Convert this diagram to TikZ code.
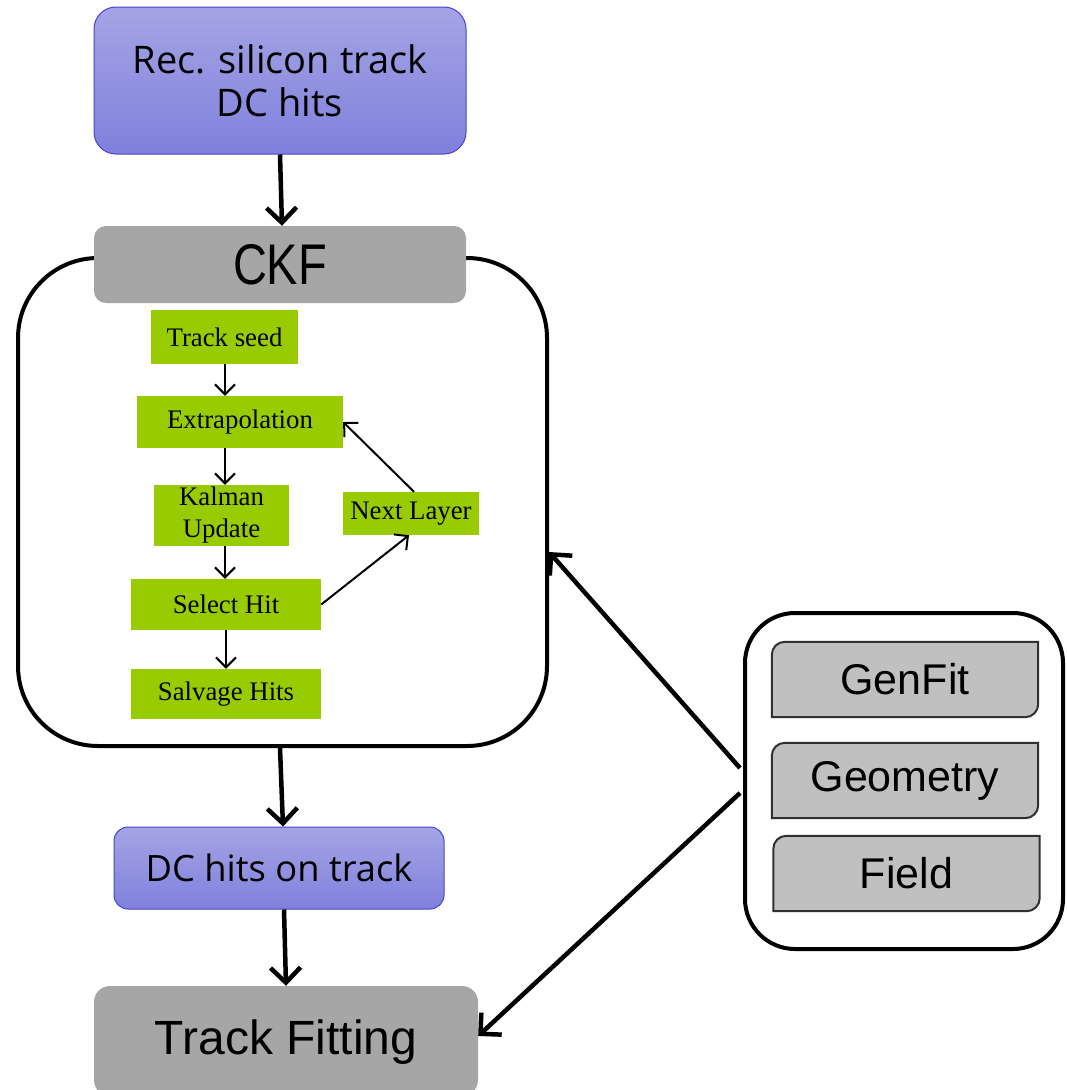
\documentclass[tikz,border=0pt]{standalone}
\usepackage{fontspec}
\usepackage{graphicx}
\usetikzlibrary{arrows.meta,calc}
\newfontfamily\segoefont{Open Sans}
\newfontfamily\arialfont{Liberation Sans}
\newfontfamily\tnrfont{Liberation Serif}
\definecolor{bluetop}{HTML}{A4A4E5}
\definecolor{bluebot}{HTML}{8080DC}
\definecolor{blueedge}{HTML}{4646CC}
\definecolor{graybox}{HTML}{A6A6A6}
\definecolor{lightgray}{HTML}{C0C0C0}
\definecolor{grayedge}{HTML}{303030}
\definecolor{greenbox}{HTML}{99CC00}
\tikzset{
  bluebox/.style={draw=blueedge, line width=1pt, rounded corners=22pt, top color=bluetop, bottom color=bluebot, align=center, inner sep=0pt},
  graynode/.style={fill=graybox, rounded corners=12pt, inner sep=0pt},
  greennode/.style={fill=greenbox, inner sep=0pt, align=center, font=\tnrfont\fontsize{26.8}{32}\selectfont},
  frame/.style={draw=black, line width=4pt, rounded corners=80pt, inner sep=0pt},
  bigarrow/.style={line width=4.5pt, -{Straight Barb[length=15pt,width=30pt,line width=4.5pt]}},
  smallarrow/.style={line width=2pt, -{Straight Barb[length=10pt,width=20pt,line width=2pt]}},
  libbox/.style={inner sep=0pt, font=\arialfont\fontsize{43}{46}\selectfont},
  libshape/.style={fill=lightgray, draw=grayedge, line width=2pt},
}
\begin{document}
\begin{tikzpicture}[x=1pt,y=-1pt]
\useasboundingbox (0,0) rectangle (1066,1090);
\clip (0,0) rectangle (1066,1090);

% big CKF frame
\node[frame, minimum width=529pt, minimum height=488pt] (ckf) at (282.5,502) {};
% CKF header
\node[graynode, minimum width=372pt, minimum height=77pt, font=\arialfont\fontsize{47}{50}\selectfont] (ckfhead) at (280,264.5) {\scalebox{1}[1.22]{CKF}};

% top input box
\node[bluebox, minimum width=372pt, minimum height=147pt, font=\segoefont\fontsize{38}{43}\selectfont] (input) at (280,80.5) {Rec. silicon track\\DC hits};

% green steps
\node[greennode, minimum width=147pt, minimum height=54pt] (seed) at (224.5,337) {\raisebox{-2pt}{Track seed}};
\node[greennode, minimum width=206pt, minimum height=52pt] (extra) at (240,422) {\raisebox{-2pt}{Extrapolation}};
\node[greennode, minimum width=135pt, minimum height=61pt, font=\tnrfont\fontsize{26.8}{32}\selectfont] (kalman) at (221.5,515.5) {Kalman\\Update};
\node[greennode, minimum width=190pt, minimum height=51pt] (select) at (226,604.5) {\raisebox{-2pt}{Select Hit}};
\node[greennode, minimum width=190pt, minimum height=50pt] (salvage) at (226,694) {\raisebox{-2pt}{Salvage Hits}};
\node[greennode, minimum width=136pt, minimum height=43pt] (next) at (411,513.5) {\raisebox{-2pt}{Next Layer}};

\draw[smallarrow] (seed.south -| 225,0) -- (extra.north -| 225,0);
\draw[smallarrow] (extra.south -| 225,0) -- (kalman.north -| 225,0);
\draw[smallarrow] (kalman.south -| 225,0) -- (select.north -| 225,0);
\draw[smallarrow] (select.south -| 226,0) -- (salvage.north -| 226,0);
\draw[smallarrow] (select.east) -- (next.south -| 409,0);
\draw[smallarrow] (next.north -| 414,0) -- (extra.east);

% DC hits on track
\node[bluebox, rounded corners=14pt, minimum width=330pt, minimum height=82pt, font=\segoefont\fontsize{36.3}{40}\selectfont] (dchits) at (279,868) {DC hits on track};
% Track fitting
\node[graynode, rounded corners=16pt, minimum width=384pt, minimum height=110pt] (fit) at (286,1041) {};
\node[font=\arialfont\fontsize{48}{52}\selectfont, inner sep=0pt] (fittext) at (286,1042) {Track Fitting};

% main flow arrows
\draw[bigarrow] (input.south) -- (ckfhead.north -| 282,0);
\draw[bigarrow] (ckf.south -| 280,0) -- (dchits.north -| 283,0);
\draw[bigarrow] (dchits.south -| 284,0) -- (fit.north -| 286,0);

% right panel
\node[frame, rounded corners=50pt, minimum width=318pt, minimum height=336pt] (panel) at (904,781) {};
\foreach \nm/\cx/\cy/\txt in {genfit/905/679.5/GenFit, geom/905/780.5/Geometry, field/906.5/873.5/Field}{
  \node[inner sep=0pt, minimum width=266pt, minimum height=75pt] (\nm) at (\cx,\cy) {};
  \draw[libshape] (\nm.south west) [rounded corners=13pt] -- (\nm.north west) [sharp corners] -- (\nm.north east) [rounded corners=13pt] -- (\nm.south east) [sharp corners] -- cycle;
  \node[libbox] at (\nm.center) {\txt};
}

\coordinate (p1) at (740,768);
\coordinate (p2) at (740,793);
\draw[bigarrow] (p1) -- (ckf.east |- 0,552);
\draw[bigarrow] (p2) -- (fit.east |- 0,1036);
\end{tikzpicture}
\end{document}
